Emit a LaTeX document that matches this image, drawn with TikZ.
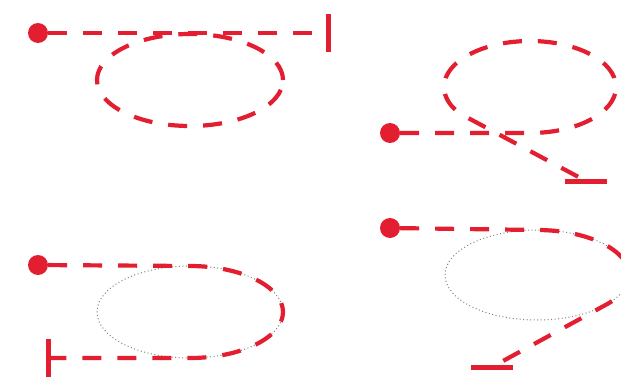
\documentclass[tikz,border=0pt]{standalone}
\usepackage{xcolor}
\usepackage{tikz}
\usetikzlibrary{arrows.meta,positioning,calc}
\definecolor{signred}{RGB}{226,30,48}
\tikzset{
  route/.style={draw=signred,line width=4.2pt,dash pattern=on 19pt off 16pt},
  guide/.style={draw=black!50,line width=1pt,dash pattern=on 1pt off 2.5pt},
  startdot/.style={circle,fill=signred,minimum size=20pt,inner sep=0pt},
  vbar/.style={rectangle,fill=signred,minimum width=5pt,minimum height=38pt,inner sep=0pt},
  hbar/.style={rectangle,fill=signred,minimum width=42pt,minimum height=5pt,inner sep=0pt},
}

\begin{document}
\begin{tikzpicture}[x=1pt,y=-1pt]
  \useasboundingbox (0,0) rectangle (621,380);
  \clip (0,0) rectangle (621,380);
  % --- start dots and end bars ---
  \node[startdot] (s1) at ( 38, 33) {};
  \node[vbar]     (e1) at (328, 33) {};
  \node[startdot] (s2) at (390,133) {};
  \node[hbar]     (e2) at (586,181) {};
  \node[startdot] (s3) at ( 38,265) {};
  \node[vbar]     (e3) at ( 48,358) {};
  \node[startdot] (s4) at (390,228) {};
  \node[hbar]     (e4) at (492,367) {};
  % --- dotted guide ellipses ---
  \draw[guide] (190,312) ellipse (93pt and 46pt);
  \draw[guide] (537,275) ellipse (92pt and 45pt);
  % --- routes ---
  \draw[route] (s1) -- (e1);
  \draw[route] (190,80) ellipse (93pt and 46pt);
  \draw[route] (s2) -- (530,133) arc (-90:215:86pt and 46pt) -- (e2);
  \draw[route] (s3) -- (190,266) arc (90:-90:93pt and 46pt) -- (e3);
  \draw[route] (s4) -- (537,230) arc (90:-40:92pt and 45pt) -- (e4);
\end{tikzpicture}
\end{document}
